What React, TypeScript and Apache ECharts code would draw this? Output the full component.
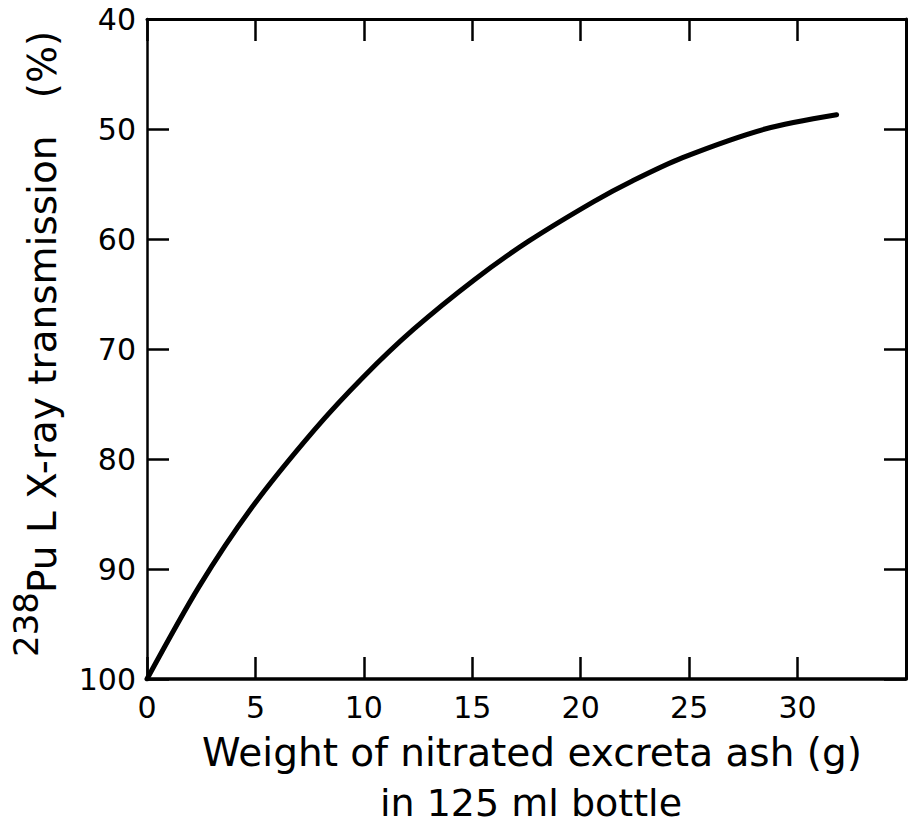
import React, { useEffect, useRef } from "react";
import * as echarts from "echarts";

const weightG = [0, 2.4, 4.8, 7.7, 10, 12.3, 15.1, 17.6, 20.6, 22.4, 24.7, 28.5, 31.8];
const transmissionPct = [100, 91.6, 84.5, 77.4, 72.5, 68.2, 63.7, 60.2, 56.6, 54.7, 52.6, 50.0, 48.7];
const xTicks = [0, 5, 10, 15, 20, 25, 30];
const yTicks = [40, 50, 60, 70, 80, 90, 100];

const FONT = "DejaVu Sans, Liberation Sans, Arial, sans-serif";

export default function App() {
  const ref = useRef<HTMLDivElement>(null);
  useEffect(() => {
    if (!ref.current) return;
    const chart = echarts.init(ref.current, null, { renderer: "svg" });
    const axisTick = { show: true, inside: true, length: 22, lineStyle: { color: "#000", width: 2.5 } };
    const line = (w: number) => ({ show: true, onZero: false, lineStyle: { color: "#000", width: w } });
    chart.setOption({
      animation: false,
      backgroundColor: "#fff",
      grid: { left: 147, top: 19, width: 770, height: 660, containLabel: false },
      xAxis: [
        {
          type: "value", position: "bottom", min: 0, max: 35, interval: 5,
          axisLine: line(3.5), axisTick, splitLine: { show: false },
          axisLabel: {
            show: true, margin: 13, color: "#000", fontSize: 30, fontFamily: FONT,
            formatter: (v: number) => (xTicks.includes(v) ? String(v) : ""),
          },
        },
        {
          type: "value", position: "top", min: 0, max: 35, interval: 5,
          axisLine: line(3), axisTick, splitLine: { show: false }, axisLabel: { show: false },
        },
      ],
      yAxis: [
        {
          type: "value", position: "left", inverse: true, min: 40, max: 100, interval: 10,
          axisLine: line(2.5), axisTick, splitLine: { show: false },
          axisLabel: {
            show: true, margin: 11, color: "#000", fontSize: 30, fontFamily: FONT,
            formatter: (v: number) => (yTicks.includes(v) ? String(v) : ""),
          },
        },
        {
          type: "value", position: "right", inverse: true, min: 40, max: 100, interval: 10,
          axisLine: line(3), axisTick, splitLine: { show: false }, axisLabel: { show: false },
        },
      ],
      series: [
        {
          type: "line",
          data: weightG.map((x, i) => [x, transmissionPct[i]]),
          smooth: 0.3,
          showSymbol: false,
          lineStyle: { color: "#000", width: 5, cap: "round" },
        },
      ],
      graphic: [
        {
          type: "text", x: 532, y: 752,
          style: { text: "Weight of nitrated excreta ash (g)", fontSize: 39, fontFamily: FONT, fill: "#000", align: "center", verticalAlign: "middle" },
        },
        {
          type: "text", x: 531, y: 803,
          style: { text: "in 125 ml bottle", fontSize: 38, fontFamily: FONT, fill: "#000", align: "center", verticalAlign: "middle" },
        },
        {
          type: "text", x: 25.5, y: 657, rotation: Math.PI / 2,
          style: { text: "238", fontSize: 34, fontFamily: FONT, fill: "#000", align: "left", verticalAlign: "middle" },
        },
        {
          type: "text", x: 42, y: 593, rotation: Math.PI / 2,
          style: { text: "Pu L X-ray transmission   (%)", fontSize: 39, fontFamily: FONT, fill: "#000", align: "left", verticalAlign: "middle" },
        },
      ],
    });
    return () => chart.dispose();
  }, []);
  return <div ref={ref} style={{ position: "absolute", left: 0, top: 0, width: 909, height: 826 }} />;
}
